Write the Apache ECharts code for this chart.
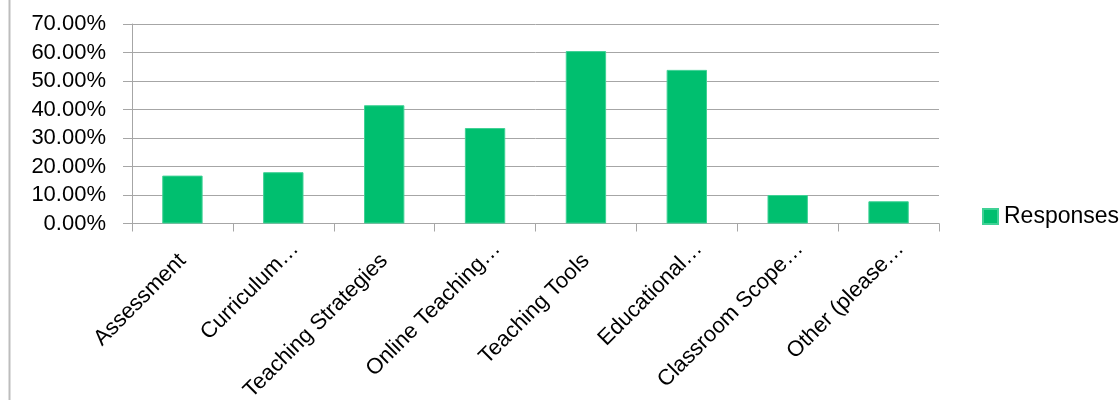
<!DOCTYPE html>
<html>
<head>
<meta charset="utf-8">
<script src="https://cdn.jsdelivr.net/npm/echarts@6/dist/echarts.min.js"></script>
<style>
  html, body { margin: 0; padding: 0; background: #ffffff; }
  #chart { width: 1119px; height: 400px; }
</style>
</head>
<body>
<div id="chart"></div>
<script>
// Survey topics and share of responses (percent)
const categories = [
  'Assessment',
  'Curriculum…',
  'Teaching Strategies',
  'Online Teaching…',
  'Teaching Tools',
  'Educational…',
  'Classroom Scope…',
  'Other (please…'
];
const responses = [16.8, 18.0, 41.5, 33.5, 60.5, 53.9, 10.0, 7.8];
const yTicks = { min: 0, max: 70, interval: 10 };

const FONT = '"Liberation Sans", Arial, sans-serif';
const FONT_SIZE = 22;
const GRID_GREY = '#a6a6a6';
const GREEN = '#00bf6f';

// shortened names (ending in an ellipsis) sit a little further up the slant
const categoryItems = categories.map(name => (
  name.endsWith('…')
    ? { value: name, textStyle: { padding: [0, -17, 0, 0] } }
    : { value: name }
));

const chart = echarts.init(document.getElementById('chart'), null, { renderer: 'canvas' });

chart.setOption({
  animation: false,
  backgroundColor: '#ffffff',
  textStyle: { fontFamily: FONT },
  graphic: [
    {
      type: 'line',
      shape: { x1: 9.5, y1: 0, x2: 9.5, y2: 400 },
      style: { stroke: '#bdbdbd', lineWidth: 2 }
    }
  ],
  grid: {
    left: 132, right: 180, top: 24, bottom: 176.5,
    containLabel: false,
    outerBoundsMode: 'none'
  },
  legend: {
    data: ['Responses'],
    left: 982,
    top: 205,
    padding: 0,
    orient: 'vertical',
    icon: 'rect',
    itemWidth: 15,
    itemHeight: 15,
    itemGap: 6,
    textStyle: { fontFamily: FONT, fontSize: 23, color: '#000000', padding: [0, 0, 0, 1] }
  },
  xAxis: {
    type: 'category',
    data: categoryItems,
    axisLine: { show: true, lineStyle: { color: GRID_GREY, width: 1 } },
    axisTick: { show: true, alignWithLabel: false, length: 8, lineStyle: { color: GRID_GREY } },
    axisLabel: {
      interval: 0,
      rotate: 45,
      margin: 34,
      fontFamily: FONT,
      fontSize: FONT_SIZE,
      color: '#000000'
    },
    splitLine: { show: false }
  },
  yAxis: {
    type: 'value',
    min: yTicks.min,
    max: yTicks.max,
    interval: yTicks.interval,
    axisLine: { show: true, lineStyle: { color: GRID_GREY, width: 1 } },
    axisTick: { show: true, length: 9, lineStyle: { color: GRID_GREY } },
    axisLabel: {
      margin: 26,
      fontFamily: FONT,
      fontSize: FONT_SIZE,
      color: '#000000',
      formatter: v => v.toFixed(2) + '%'
    },
    splitLine: { show: true, lineStyle: { color: GRID_GREY, width: 1 } }
  },
  series: [
    {
      name: 'Responses',
      type: 'bar',
      data: responses,
      barWidth: '40%',
      itemStyle: { color: GREEN, borderColor: '#3fd195', borderWidth: 1 }
    }
  ]
});
</script>
</body>
</html>
